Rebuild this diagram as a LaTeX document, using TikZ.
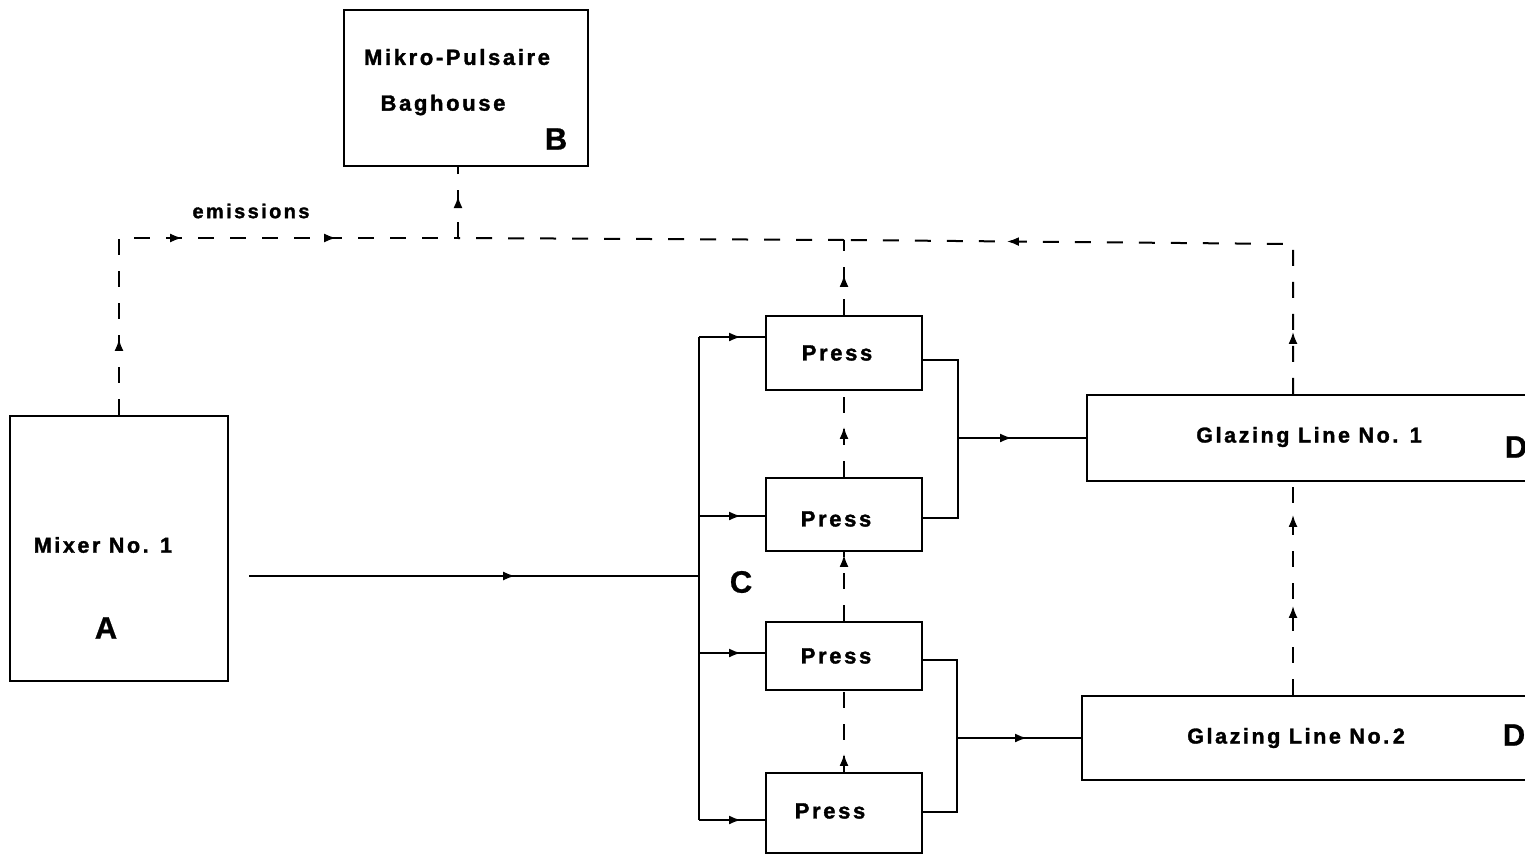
\documentclass[tikz,border=0pt]{standalone}
\usepackage{fontspec}
\newfontfamily\labfont[LetterSpace=12,BoldFeatures={FakeBold=1.5}]{Liberation Sans}
\newfontfamily\plainfont[BoldFeatures={FakeBold=0.8}]{Liberation Sans}
\usetikzlibrary{arrows.meta,decorations.markings}
\begin{document}
\begin{tikzpicture}[x=1pt,y=-1pt,
  box/.style={draw,line width=2.2pt,minimum width=#1,inner sep=0pt},
  lab/.style={font=\labfont\bfseries\fontsize{22}{26}\selectfont,inner sep=0pt},
  big/.style={font=\plainfont\bfseries\fontsize{31}{36}\selectfont,inner sep=0pt},
  flow/.style={line width=2pt},
  emis/.style={line width=2pt,dash pattern=on 16pt off 16pt},
  arr/.style={postaction={decorate},decoration={markings,
     mark=at position #1 with {\arrow{Latex[length=12pt,width=9pt]}}}},
  arrr/.style 2 args={postaction={decorate},decoration={markings,
     mark=at position #1 with {\arrow{Latex[length=12pt,width=9pt]}},
     mark=at position #2 with {\arrow{Latex[length=12pt,width=9pt]}}}},
  arrrr/.style n args={3}{postaction={decorate},decoration={markings,
     mark=at position #1 with {\arrow{Latex[length=12pt,width=9pt]}},
     mark=at position #2 with {\arrow{Latex[length=12pt,width=9pt]}},
     mark=at position #3 with {\arrow{Latex[length=12pt,width=9pt]}}}}]
\useasboundingbox (0,0) rectangle (1525,854);
\fill[white] (0,0) rectangle (1525,854);

% boxes
\node[box=244pt,minimum height=156pt] (B) at (466,88) {};
\node[box=218pt,minimum height=265pt] (A) at (119,548.5) {};
\node[box=156pt,minimum height=74pt] (P1) at (844,353) {};
\node[box=156pt,minimum height=73pt] (P2) at (844,514.5) {};
\node[box=156pt,minimum height=68pt] (P3) at (844,656) {};
\node[box=156pt,minimum height=80pt] (P4) at (844,813) {};
\node[box=513pt,minimum height=86pt] (G1) at (1343.5,438) {};
\node[box=518pt,minimum height=84pt] (G2) at (1341,738) {};

% texts
\node[lab] (bt1) at (457,57) {Mikro-Pulsaire};
\node[lab] (bt2) at (443,105) {Baghouse};
\node[big] (bl) at (556,139) {B};
\node[lab,font=\labfont\bfseries\fontsize{21.5}{26}\selectfont] (at1) at (103,545) {Mixer No. 1};
\node[big] (al) at (106,628) {A};
\node[lab] (pt1) at (837,353) {Press};
\node[lab] (pt2) at (836,519) {Press};
\node[lab] (pt3) at (836,656) {Press};
\node[lab] (pt4) at (830,811) {Press};
\node[lab,font=\labfont\bfseries\fontsize{21.5}{26}\selectfont] (gt1) at (1309,437) {Glazing Line No. 1};
\node[lab,font=\labfont\bfseries\fontsize{21.5}{26}\selectfont] (gt2) at (1296,738) {Glazing Line No.\,2};
\node[big] (d1) at (1516,447) {D};
\node[big] (d2) at (1514,735) {D};
\node[big] (cl) at (741,582) {C};
\node[lab,font=\labfont\bfseries\fontsize{20}{24}\selectfont] (em) at (251,211) {emissions};

% coordinates
\coordinate (jb) at (458,238);
\coordinate (jp) at (844,240);
\coordinate (jg) at (1293,244);
\coordinate (cm) at (699,576);
\coordinate (c1) at (699,337);
\coordinate (c2) at (699,516);
\coordinate (c3) at (699,653);
\coordinate (c4) at (699,820);
\coordinate (o1) at (958,360);
\coordinate (o2) at (958,518);
\coordinate (o3) at (957,660);
\coordinate (o4) at (957,812);

% feed from mixer to presses
\draw[flow,arr=266pt] ([xshift=20pt]A.east |- cm) -- (cm);
\draw[flow] (c1) -- (c4);
\draw[flow,arr=42pt] (c1) -- (P1.west |- c1);
\draw[flow,arr=42pt] (c2) -- (P2.west |- c2);
\draw[flow,arr=42pt] (c3) -- (P3.west |- c3);
\draw[flow,arr=42pt] (c4) -- (P4.west |- c4);

% presses to glazing lines
\draw[flow] (P1.east |- o1) -- (o1) -- (o2) -- (P2.east |- o2);
\draw[flow] (P3.east |- o3) -- (o3) -- (o4) -- (P4.east |- o4);
\draw[flow,arr=54pt] (o1 |- G1.west) -- (G1.west);
\draw[flow,arr=70pt] (o3 |- G2.west) -- (G2.west);

% emissions
\draw[emis,arrrr={76pt}{240pt}{394pt}] (A.north) |- (jb);
\draw[emis] (jp) -- (jb);
\draw[emis,arr=42pt] (jb) -- (jb |- B.south);
\draw[emis,arrr={62pt}{436pt}] (jg |- G1.north) -- (jg) -- (jp);
\draw[emis,arrr={89pt}{180pt}] (jg |- G2.north) -- (jg |- G1.south);
\draw[emis,arr=40pt] (P1.north) -- (jp);
\draw[emis,arr=50pt] (P2.north) -- (P1.south);
\draw[emis,arr=66pt] (P3.north) -- (P2.south);
\draw[emis,arr=18pt] (P4.north) -- (P3.south);
\end{tikzpicture}
\end{document}
